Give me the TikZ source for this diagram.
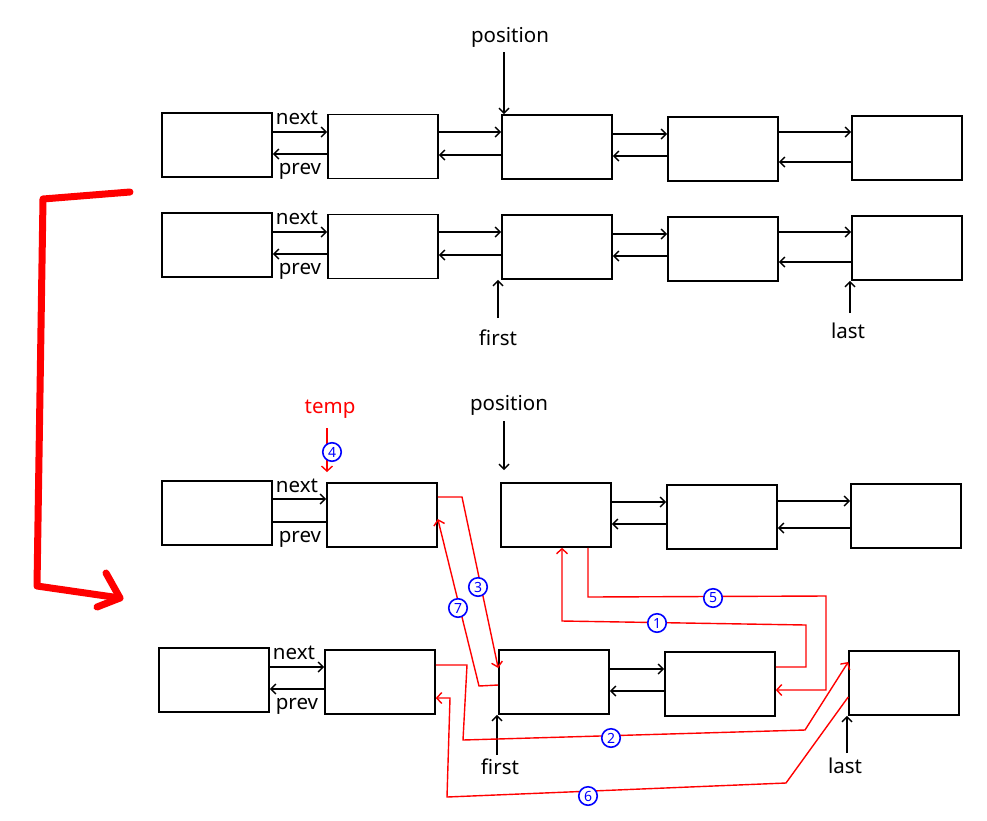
\documentclass[tikz,border=0pt]{standalone}
\usepackage{fontspec}
\setmainfont{Noto Sans}
\usetikzlibrary{arrows.meta,calc}
\begin{document}
\begin{tikzpicture}[x=1pt,y=-1pt,
  box/.style={draw,line width=1.6pt,minimum width=110pt,minimum height=64pt,inner sep=0pt},
  arr/.style={line width=1.4pt,-{Straight Barb[length=5pt,width=10pt,line width=1.4pt]}},
  rarr/.style={red,line width=1.4pt,-{Straight Barb[length=5pt,width=11pt,line width=1.4pt]}},
  rline/.style={red,line width=1.4pt},
  lbl/.style={font=\fontsize{20.5}{24}\selectfont,inner sep=1pt},
  num/.style={circle,draw=blue,line width=1.6pt,text=blue,fill=white,
    font=\bfseries\fontsize{14}{14}\selectfont,inner sep=0pt,minimum size=18.5pt}]
\useasboundingbox (0,0) rectangle (987,820);
% ---------- rows 1 & 2 ----------
\foreach \r/\dy in {1/0,2/100}{
  \node[box] (a\r) at (217,145+\dy) {};
  \node[box] (b\r) at (383,146.5+\dy) {};
  \node[box] (c\r) at (557,147+\dy) {};
  \node[box] (d\r) at (723,149+\dy) {};
  \node[box] (e\r) at (907,148+\dy) {};
  \draw[arr] (a\r.east |- 0,132+\dy) -- (b\r.west |- 0,132+\dy);
  \draw[arr] (b\r.west |- 0,154+\dy) -- (a\r.east |- 0,154+\dy);
  \draw[arr] (b\r.east |- 0,132+\dy) -- (c\r.west |- 0,132+\dy);
  \draw[arr] (c\r.west |- 0,155+\dy) -- (b\r.east |- 0,155+\dy);
  \draw[arr] (c\r.east |- 0,134+\dy) -- (d\r.west |- 0,134+\dy);
  \draw[arr] (d\r.west |- 0,156+\dy) -- (c\r.east |- 0,156+\dy);
  \draw[arr] (d\r.east |- 0,132+\dy) -- (e\r.west |- 0,132+\dy);
  \draw[arr] (e\r.west |- 0,162+\dy) -- (d\r.east |- 0,162+\dy);
  \node[lbl] (nx\r) at (297,118+\dy) {next};
  \node[lbl] (pv\r) at (300,171+\dy) {prev};
}
\node[lbl] (pos1) at (510,37) {position};
\coordinate (pos1s) at (504,52);
\draw[arr] (pos1s) -- (c1.north -| pos1s);
\node[lbl] (first1) at (498,338) {first};
\coordinate (f1s) at (498,318);
\draw[arr] (f1s) -- (c2.south -| f1s);
\node[lbl] (last1) at (848,331) {last};
\coordinate (l1s) at (850,313);
\draw[arr] (l1s) -- (e2.south -| l1s);
% ---------- big red arrow ----------
\coordinate (bigs) at (130,192);
\coordinate (bige) at (120,598);
\draw[red,line width=7pt,line cap=round,line join=round] (bigs) -- (43,199) -- (37,586) -- (bige);
\draw[red,line width=7pt,line cap=round,line join=round] (106,573) -- (bige) -- (97,607);
% ---------- row 3 ----------
\node[box] (a3) at (217,513) {};
\node[box] (b3) at (382,515) {};
\node[box] (c3) at (556,515) {};
\node[box] (d3) at (722,517) {};
\node[box] (e3) at (906,516) {};
\draw[arr] (a3.east |- 0,499) -- (b3.west |- 0,499);
\draw[line width=1.4pt] (b3.west |- 0,522) -- (a3.east |- 0,522);
\draw[arr] (c3.east |- 0,502) -- (d3.west |- 0,502);
\draw[arr] (d3.west |- 0,524) -- (c3.east |- 0,524);
\draw[arr] (d3.east |- 0,501) -- (e3.west |- 0,501);
\draw[arr] (e3.west |- 0,528) -- (d3.east |- 0,528);
\node[lbl] (nx3) at (297,486) {next};
\node[lbl] (pv3) at (300,539) {prev};
\node[lbl,text=red] (temp) at (330,409) {temp};
\coordinate (temps) at (327,428);
\draw[rarr] (temps) -- (327,472);
\node[num] (n4) at (332,452) {4};
\node[lbl] (pos2) at (509,405) {position};
\coordinate (pos2s) at (504,421);
\draw[arr] (pos2s) -- (504,470);
% ---------- row 4 ----------
\node[box] (a4) at (214,680) {};
\node[box] (b4) at (380,682) {};
\node[box] (c4) at (554,682) {};
\node[box] (d4) at (720,684) {};
\node[box] (e4) at (904,683) {};
\draw[arr] (a4.east |- 0,667) -- (b4.west |- 0,667);
\draw[arr] (b4.west |- 0,689) -- (a4.east |- 0,689);
\draw[arr] (c4.east |- 0,669) -- (d4.west |- 0,669);
\draw[arr] (d4.west |- 0,691) -- (c4.east |- 0,691);
\node[lbl] (nx4) at (294,653) {next};
\node[lbl] (pv4) at (297,706) {prev};
\node[lbl] (first2) at (500,767) {first};
\coordinate (f2s) at (497,755);
\draw[arr] (f2s) -- (c4.south -| f2s);
\node[lbl] (last2) at (845,766) {last};
\coordinate (l2s) at (847,753);
\draw[arr] (l2s) -- (e4.south -| l2s);
% ---------- red re-linking paths ----------
% 1
\draw[rarr] (d4.east |- 0,667) -- (806,667) -- (806,625) -- (562,621) -- (c3.south -| 562,0);
% 5
\draw[rarr] (c3.south -| 588,0) -- (588,597) -- (826,596) -- (826,690) -- (d4.east |- 0,690);
% 3
\draw[rarr] (b3.east |- 0,497) -- (462,497) -- (c4.west |- 0,668);
% 7
\draw[rarr] (c4.west |- 0,685) -- (479,686) -- (b3.east |- 0,519);
% 2
\draw[rarr] (b4.east |- 0,665) -- (467,665) -- (463,740) -- (805,730) -- (e4.west |- 0,662);
% 6
\draw[rarr] (e4.west |- 0,697) -- (786,783) -- (447,797) -- (450,698) -- (b4.east |- 0,698);
\node[num] (n1) at (657,623) {1};
\node[num] (n5) at (713,598) {5};
\node[num] (n3) at (478,587) {3};
\node[num] (n7) at (458,608) {7};
\node[num] (n2) at (611,738) {2};
\node[num] (n6) at (588,796) {6};
\end{tikzpicture}
\end{document}
